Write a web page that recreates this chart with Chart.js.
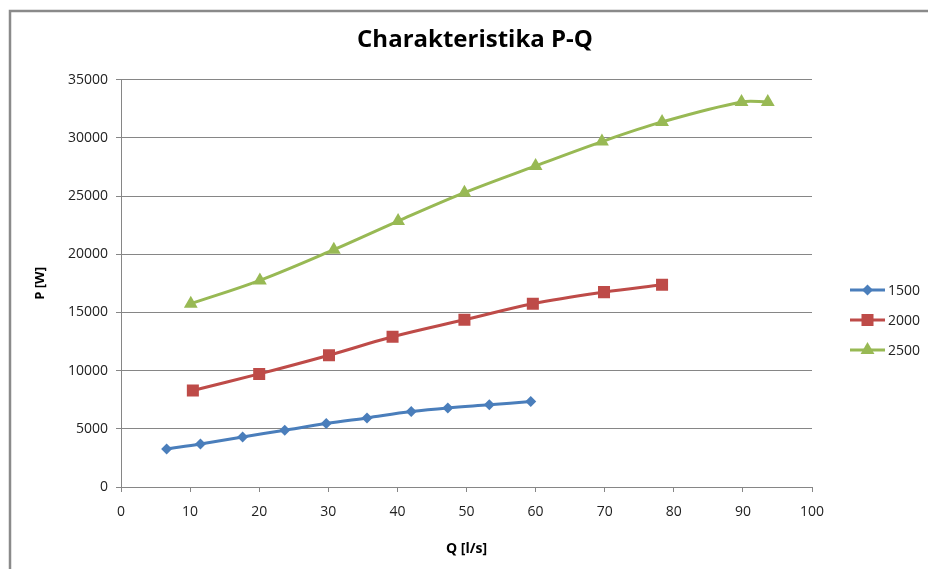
<!DOCTYPE html>
<html>
<head>
<meta charset="utf-8">
<script src="https://cdn.jsdelivr.net/npm/chart.js@4/dist/chart.umd.min.js"></script>
<style>
  html, body { margin: 0; padding: 0; background: #fff; }
  #wrap { width: 928px; height: 569px; position: relative; }
</style>
</head>
<body>
<div id="wrap"><canvas id="chart" width="928" height="569"></canvas></div>
<script>
// --- datos (Q en l/s, P en W)
const serieNombres = ["1500", "2000", "2500"];

const q1500 = [6.6, 11.5, 17.6, 23.7, 29.7, 35.6, 42.0, 47.3, 53.3, 59.3];
const p1500 = [3270, 3700, 4300, 4880, 5450, 5940, 6480, 6800, 7060, 7340];

const q2000 = [10.4, 20.0, 30.1, 39.3, 49.7, 59.6, 69.9, 78.3];
const p2000 = [8290, 9720, 11330, 12910, 14370, 15750, 16750, 17380];

const q2500 = [10.1, 20.1, 30.8, 40.1, 49.7, 60.0, 69.6, 78.3, 89.8, 93.6];
const p2500 = [15750, 17760, 20400, 22860, 25300, 27600, 29690, 31380, 33100, 33100];

const xTicks = [0, 10, 20, 30, 40, 50, 60, 70, 80, 90, 100];
const yTicks = [0, 5000, 10000, 15000, 20000, 25000, 30000, 35000];

const colores = ["#4A7EBB", "#BE4B48", "#98B954"];
const marcadores = ["rectRot", "rect", "triangle"];
const radios = [5.5, 8.5, 8];

const GRIS = "#868686";
const FUENTE = "'Open Sans', 'DejaVu Sans', sans-serif";

function puntos(xs, ys) {
  return xs.map((x, i) => ({ x: x, y: ys[i] }));
}

const datasets = [
  puntos(q1500, p1500),
  puntos(q2000, p2000),
  puntos(q2500, p2500)
].map((data, i) => ({
  label: serieNombres[i],
  data: data,
  borderColor: colores[i],
  backgroundColor: colores[i],
  borderWidth: 3,
  tension: 0.35,
  pointStyle: marcadores[i],
  pointRadius: radios[i],
  pointHoverRadius: radios[i],
  pointBorderWidth: 0
}));

// Marco exterior (como el de Excel)
const marco = {
  id: 'marco',
  beforeDraw(chart) {
    const c = chart.ctx;
    c.save();
    c.fillStyle = '#fff';
    c.fillRect(0, 0, chart.width, chart.height);
    c.strokeStyle = '#8a8a8a';
    c.lineWidth = 2.5;
    c.beginPath();
    c.moveTo(10, chart.height + 5);
    c.lineTo(10, 11);
    c.lineTo(chart.width + 5, 11);
    c.stroke();
    c.restore();
  }
};

// Leyenda a la derecha, con línea y marcador
const leyenda = {
  id: 'leyenda',
  afterDraw(chart) {
    const c = chart.ctx;
    const ys = [290, 320, 350];
    chart.data.datasets.forEach((ds, i) => {
      const y = ys[i];
      c.save();
      c.strokeStyle = ds.borderColor;
      c.lineWidth = 3;
      c.beginPath();
      c.moveTo(850, y);
      c.lineTo(885, y);
      c.stroke();
      c.fillStyle = ds.backgroundColor;
      if (Chart.helpers && Chart.helpers.drawPoint) {
        Chart.helpers.drawPoint(c, { pointStyle: ds.pointStyle, radius: ds.pointRadius, borderWidth: 0, rotation: 0 }, 867.5, y);
      }
      c.fillStyle = '#222';
      c.font = '14px ' + FUENTE;
      c.textAlign = 'left';
      c.textBaseline = 'middle';
      c.fillText(ds.label, 888, y + 1);
      c.restore();
    });
  }
};

const ctx = document.getElementById('chart').getContext('2d');
new Chart(ctx, {
  type: 'line',
  data: { datasets: datasets },
  plugins: [marco, leyenda],
  options: {
    responsive: false,
    animation: false,
    layout: { padding: { left: 22, right: 0, top: 0, bottom: 0 } },
    plugins: {
      legend: { display: false },
      tooltip: { enabled: false },
      title: {
        display: true,
        text: 'Charakteristika P-Q',
        color: '#000',
        font: { family: FUENTE, size: 24, weight: 'bold' },
        padding: { top: 26, bottom: 25 }
      }
    },
    scales: {
      x: {
        type: 'linear',
        min: 0,
        max: 100,
        afterBuildTicks(axis) { axis.ticks = xTicks.map(v => ({ value: v })); },
        afterFit(axis) { axis.height = 82; },
        grid: { display: true, drawOnChartArea: false, color: GRIS, tickLength: 5 },
        border: { color: GRIS, width: 1 },
        ticks: { color: '#222', font: { family: FUENTE, size: 14 }, padding: 12, maxRotation: 0 },
        title: {
          display: true,
          text: 'Q [l/s]',
          color: '#000',
          font: { family: FUENTE, size: 14, weight: 'bold' },
          padding: { top: 4, bottom: 12 }
        }
      },
      y: {
        type: 'linear',
        min: 0,
        max: 35000,
        afterBuildTicks(axis) { axis.ticks = yTicks.map(v => ({ value: v })); },
        afterFit(axis) { axis.width = 99; },
        grid: { color: GRIS, tickLength: 5 },
        border: { color: GRIS, width: 1 },
        ticks: {
          color: '#222',
          font: { family: FUENTE, size: 14 },
          padding: 8,
          callback: v => String(v)
        },
        title: {
          display: true,
          text: 'P [W]',
          color: '#000',
          font: { family: FUENTE, size: 13, weight: 'bold' },
          padding: { top: 10, bottom: 0 }
        }
      },
      // eje vacío a la derecha: deja sitio para la leyenda
      derecha: {
        type: 'linear',
        position: 'right',
        min: 0,
        max: 1,
        afterFit(axis) { axis.width = 116; },
        grid: { display: false },
        border: { display: false },
        ticks: { display: false }
      }
    }
  }
});
</script>
</body>
</html>
